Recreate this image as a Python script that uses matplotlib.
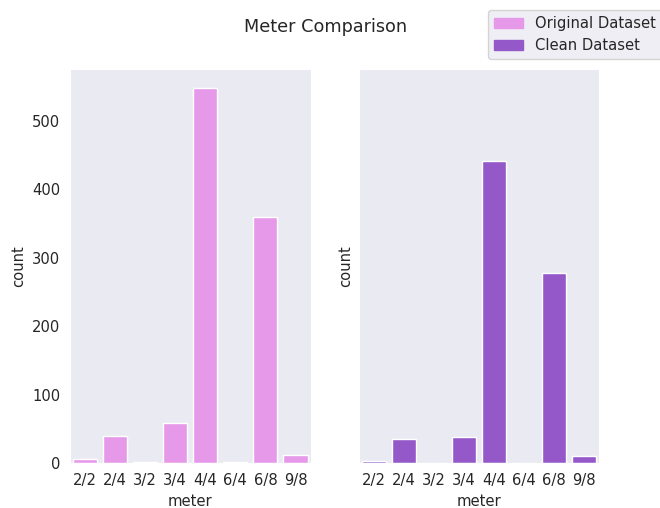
import matplotlib; matplotlib.use("Agg")
import matplotlib.pyplot as plt
import matplotlib.patches as mpatches
import seaborn as sns

meters = ["2/2", "2/4", "3/2", "3/4", "4/4", "6/4", "6/8", "9/8"]
original_counts = [6, 40, 2, 59, 548, 2, 359, 12]
clean_counts = [3, 36, 0, 38, 441, 0, 278, 10]

ORIG_COLOR  = "#e699e8"
CLEAN_COLOR = "#9558c9"

sns.set_style("dark")
plt.rcParams["font.family"] = ["DejaVu Sans"]
plt.rcParams["xtick.labelsize"] = 10.6
plt.rcParams["ytick.labelsize"] = 10.6
plt.rcParams["axes.labelsize"] = 10.6
plt.rcParams["legend.fontsize"] = 10.6

fig, (ax1, ax2) = plt.subplots(1, 2, figsize=(6.6, 5.08), dpi=100, sharey=True)
fig.subplots_adjust(left=0.106, right=0.908, bottom=0.088, top=0.864, wspace=0.2)

x = range(len(meters))
ax1.bar(x, original_counts, width=0.8, color=ORIG_COLOR, edgecolor="white")
ax2.bar(x, clean_counts, width=0.8, color=CLEAN_COLOR, edgecolor="white")

for ax in (ax1, ax2):
    ax.set_xticks(list(x))
    ax.set_xticklabels(meters)
    ax.set_xlim(-0.5, len(meters) - 0.5)
    ax.set_xlabel("meter")
    ax.set_ylabel("count")
ax1.set_ylim(0, 575)
ax2.tick_params(labelleft=False)

fig.suptitle("Meter Comparison", x=0.493, y=0.965, fontsize=12.7)
handles = [mpatches.Patch(color=ORIG_COLOR, label="Original Dataset"),
           mpatches.Patch(color=CLEAN_COLOR, label="Clean Dataset")]
fig.legend(handles=handles, loc="upper left", bbox_to_anchor=(488 / 660, 1 - 10 / 508),
           borderaxespad=0)

fig.savefig("out.png", dpi=100)
